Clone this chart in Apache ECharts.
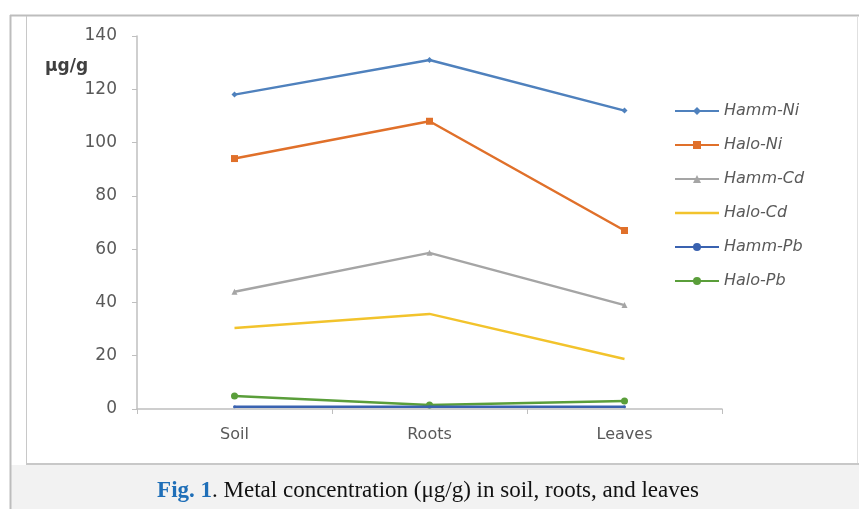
<!DOCTYPE html>
<html><head><meta charset="utf-8">
<script src="https://cdn.jsdelivr.net/npm/echarts@6/dist/echarts.min.js"></script>
<style>html,body{margin:0;padding:0;background:#fff}#c{width:859px;height:509px}</style>
</head><body><div id="c"></div>
<script>
const categories = ['Soil', 'Roots', 'Leaves'];
const seriesNames = ['Hamm-Ni', 'Halo-Ni', 'Hamm-Cd', 'Halo-Cd', 'Hamm-Pb', 'Halo-Pb'];
const hammNi = [118, 131, 112];
const haloNi = [94, 108, 67];
const hammCd = [44, 58.6, 39];
const haloCd = [30.4, 35.7, 18.8];
const hammPb = [0.8, 0.8, 0.8];
const haloPb = [4.9, 1.5, 3];
const yTicks = [0, 20, 40, 60, 80, 100, 120, 140];

const colors = ['#4f81bd', '#e0702a', '#a5a5a5', '#f2c32c', '#3a62b0', '#5a9e3a'];
const symbols = ['diamond', 'rect', 'triangle', 'none', 'circle', 'circle'];
const sizes = [6, 7, 6, 0, 3, 7];
const values = [hammNi, haloNi, hammCd, haloCd, hammPb, haloPb];

const chart = echarts.init(document.getElementById('c'));
const font = '"DejaVu Sans", sans-serif';
chart.setOption({
  animation: false,
  backgroundColor: '#fff',
  graphic: [
    { type: 'rect', shape: { x: 10, y: 465, width: 849, height: 44 }, style: { fill: '#f2f2f2' }, z: 0 },
    { type: 'line', shape: { x1: 10, y1: 15.5, x2: 859, y2: 15.5 }, style: { stroke: '#bdbdbd', lineWidth: 2 } },
    { type: 'line', shape: { x1: 10.5, y1: 15, x2: 10.5, y2: 509 }, style: { stroke: '#bdbdbd', lineWidth: 2 } },
    { type: 'line', shape: { x1: 26.5, y1: 16, x2: 26.5, y2: 463 }, style: { stroke: '#c8c8c8', lineWidth: 1 } },
    { type: 'line', shape: { x1: 857.5, y1: 16, x2: 857.5, y2: 465 }, style: { stroke: '#e0e0e0', lineWidth: 1 } },
    { type: 'line', shape: { x1: 26, y1: 464, x2: 859, y2: 464 }, style: { stroke: '#c8c8c8', lineWidth: 2 } },
    { type: 'text', x: 45, y: 67, style: { text: 'μg/g', font: 'bold 17px "DejaVu Sans", sans-serif', fill: '#404040', verticalAlign: 'middle' } },
    { type: 'text', x: 428, y: 491, style: {
        text: '{a|Fig. 1}{b|. Metal concentration (μg/g) in soil, roots, and leaves}',
        align: 'center', verticalAlign: 'middle',
        rich: {
          a: { font: 'bold 23px "Liberation Serif", serif', fill: '#1f6fb8' },
          b: { font: '23px "Liberation Serif", serif', fill: '#111' }
        } } }
  ],
  grid: { left: 137, right: 137, top: 36, bottom: 100, containLabel: false },
  legend: {
    orient: 'vertical', left: 669, top: 98, itemGap: 18, itemWidth: 44, itemHeight: 10,
    textStyle: { fontFamily: font, fontStyle: 'italic', fontSize: 16, color: '#595959' },
    data: seriesNames.map((n, i) => symbols[i] === 'none' ? { name: n, icon: 'path://M0,0L44,0L44,2.5L0,2.5Z' } : n)
  },
  xAxis: {
    type: 'category', data: categories, boundaryGap: true,
    axisLine: { lineStyle: { color: '#bfbfbf', width: 1.5 } },
    axisTick: { show: true, lineStyle: { color: '#bfbfbf' }, length: 5 },
    axisLabel: { fontFamily: font, fontSize: 16, color: '#595959', margin: 18 }
  },
  yAxis: {
    type: 'value', min: 0, max: 140, interval: 20,
    axisLine: { show: true, lineStyle: { color: '#bfbfbf', width: 1.5 } },
    axisTick: { show: true, lineStyle: { color: '#bfbfbf' }, length: 5 },
    splitLine: { show: false },
    axisLabel: { fontFamily: font, fontSize: 17, color: '#595959', margin: 20,
      formatter: v => yTicks.includes(v) ? String(v) : '' }
  },
  series: seriesNames.map((n, i) => ({
    name: n, type: 'line', data: values[i],
    symbol: symbols[i], symbolSize: sizes[i], showSymbol: symbols[i] !== 'none',
    lineStyle: { color: colors[i], width: 2.5 },
    itemStyle: { color: colors[i] },
    z: 10 - i
  }))
});
</script></body></html>
